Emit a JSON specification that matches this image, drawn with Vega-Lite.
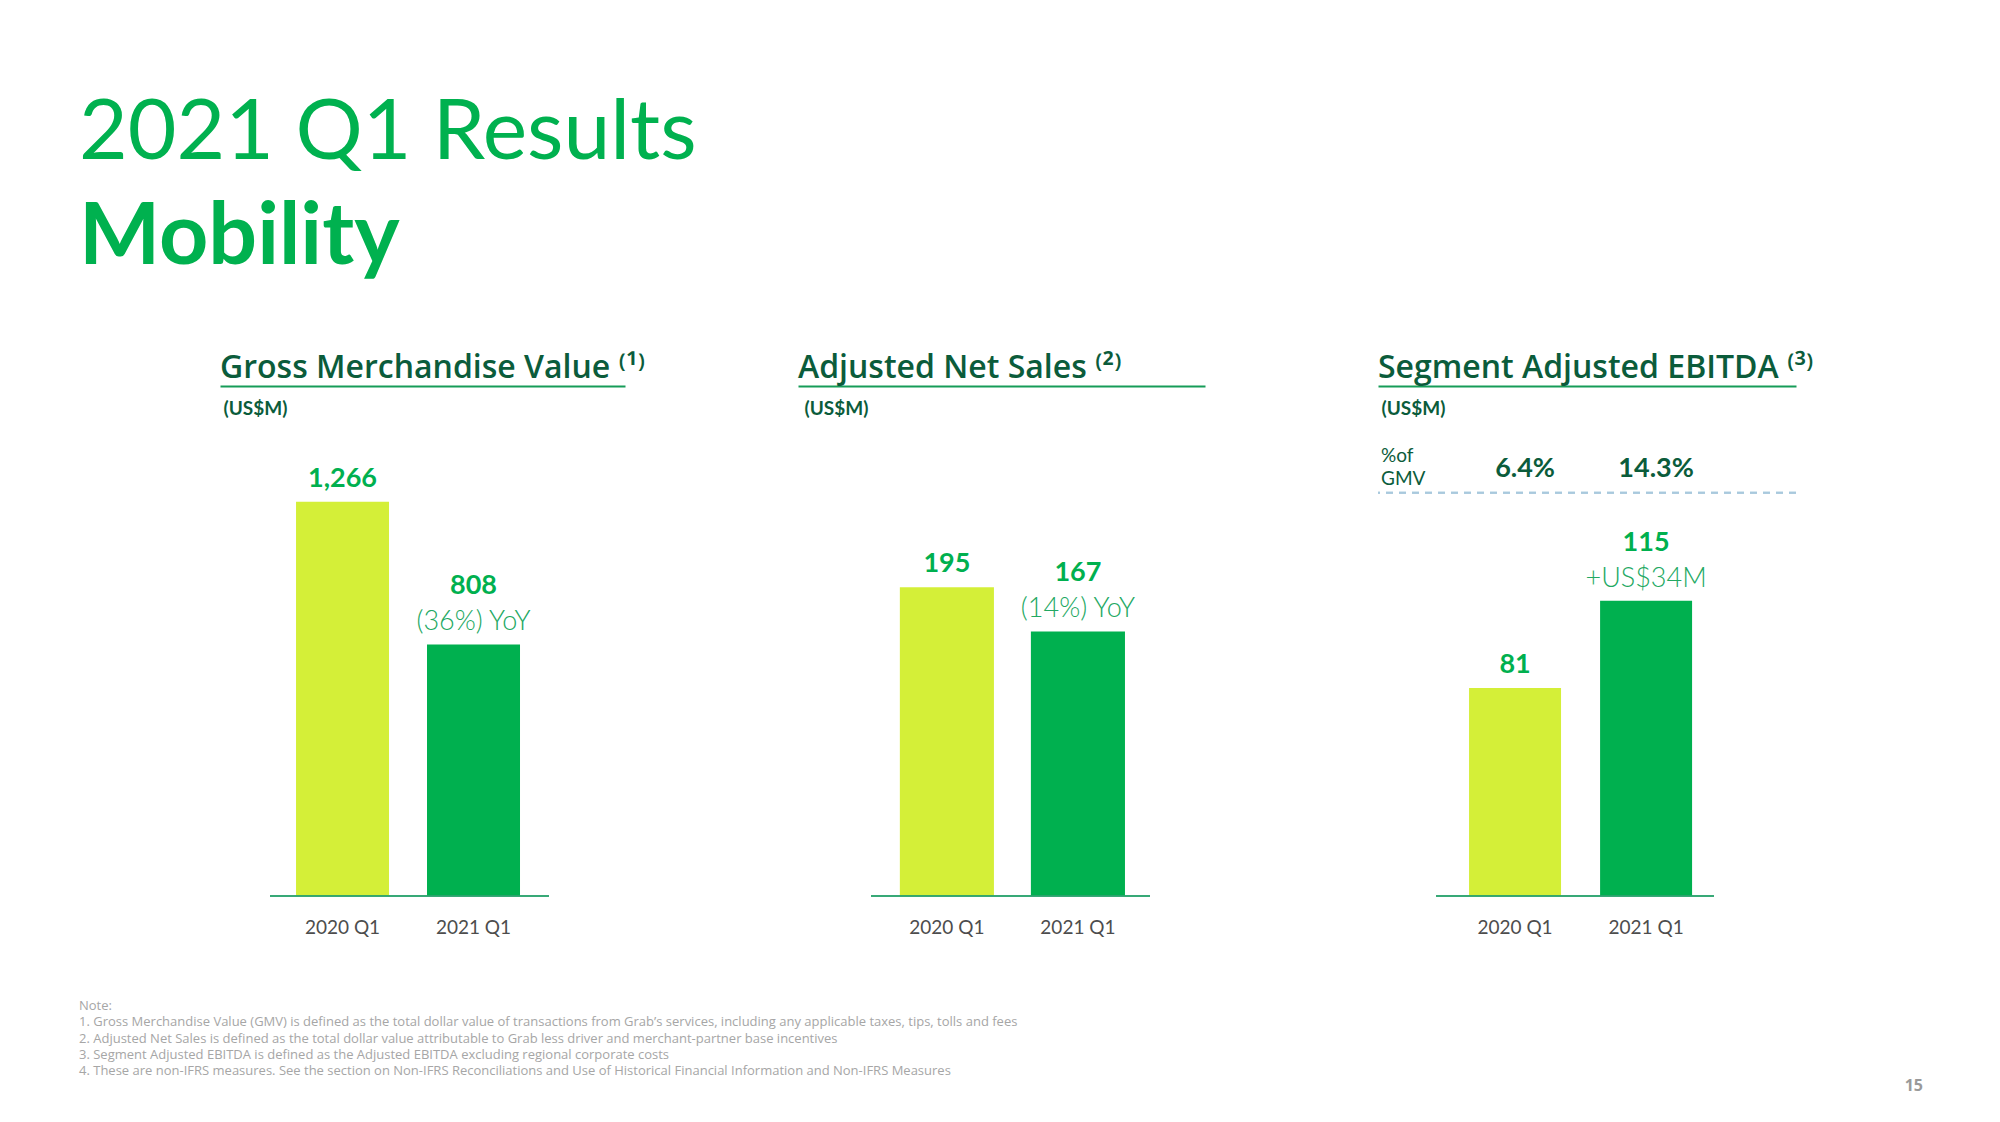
{
  "$schema": "https://vega.github.io/schema/vega-lite/v6.json",
  "background": "white",
  "padding": {"left": 79, "top": 92, "right": 10, "bottom": 10},
  "config": {
    "view": {"stroke": null},
    "axis": {"grid": false}
  },
  "title": {"text": "15", "orient": "bottom", "anchor": "end", "frame": "group", "offset": 0, "dx": 1703, "font": "Open Sans", "fontSize": 16, "fontWeight": "bold", "color": "#9a9a9a"},
  "vconcat": [
    {
      "title": {
        "text": [
          "Note:",
          "1. Gross Merchandise Value (GMV) is defined as the total dollar value of transactions from Grab’s services, including any applicable taxes, tips, tolls and fees",
          "2. Adjusted Net Sales is defined as the total dollar value attributable to Grab less driver and merchant-partner base incentives",
          "3. Segment Adjusted EBITDA is defined as the Adjusted EBITDA excluding regional corporate costs",
          "4. These are non-IFRS measures. See the section on Non-IFRS Reconciliations and Use of Historical Financial Information and Non-IFRS Measures"
        ],
        "orient": "bottom", "anchor": "start", "frame": "group", "dx": -141, "offset": 63,
        "font": "Open Sans", "fontSize": 13, "fontWeight": "normal", "color": "#a6a6a6", "lineHeight": 16.3
      },
      "vconcat": [
        {
          "title": {
            "text": "2021 Q1 Results", "subtitle": "Mobility",
            "anchor": "start", "frame": "group", "dx": -141, "offset": 70,
            "font": "Lato", "fontSize": 84, "fontWeight": "normal", "color": "#00b14f",
            "subtitleFont": "Lato", "subtitleFontSize": 86, "subtitleFontWeight": "bold", "subtitleColor": "#00b14f", "subtitlePadding": 19
          },
          "hconcat": [
            {
              "width": 405, "height": 510,
              "title": {"text": "Gross Merchandise Value ⁽¹⁾", "anchor": "start", "frame": "group", "offset": 1, "font": "Open Sans", "fontSize": 32, "fontWeight": 600, "color": "#0b5c3b"},
              "data": {"values": [
                {"quarter": "2020 Q1", "value": 1266},
                {"quarter": "2021 Q1", "value": 808, "change": "(36%) YoY"}
              ]},
              "layer": [
                {
                  "mark": {"type": "bar"},
                  "encoding": {
                    "x": {"field": "quarter", "type": "nominal", "scale": {"paddingInner": 0.29, "paddingOuter": 0.691, "align": 0.42},
                      "axis": {"orient": "bottom", "title": null, "domain": false, "ticks": false, "labelPadding": 22, "labelFontSize": 19, "labelColor": "#4d4d4d", "labelFont": "Lato", "labelAngle": 0}},
                    "y": {"field": "value", "type": "quantitative", "scale": {"domain": [0, 1638], "nice": false}, "axis": null},
                    "color": {"field": "quarter", "type": "nominal", "scale": {"domain": ["2020 Q1", "2021 Q1"], "range": ["#d4ef38", "#00b04f"]}, "legend": null}
                  }
                },
                {
                  "mark": {"type": "rule", "color": "#2ba36e", "strokeWidth": 1.5},
                  "encoding": {
                    "x": {"datum": "2020 Q1", "type": "nominal", "bandPosition": -0.28,
                      "axis": {"orient": "top", "title": "(US$M)", "domain": true, "domainColor": "#169c58", "domainWidth": 2, "ticks": false, "labels": false, "titleX": 3, "titleY": 22, "titleAlign": "left", "titleBaseline": "middle", "titleAngle": 0, "titleFont": "Lato", "titleFontSize": 19, "titleFontWeight": "bold", "titleColor": "#0b5c3b", "titlePadding": 0}},
                    "x2": {"datum": "2021 Q1", "bandPosition": 1.312},
                    "y": {"datum": 0, "type": "quantitative", "axis": null}
                  }
                },
                {
                  "transform": [{"filter": {"field": "quarter", "equal": "2020 Q1"}}],
                  "mark": {"type": "text", "baseline": "alphabetic", "dy": -15, "font": "Lato", "fontSize": 27, "fontWeight": "bold", "color": "#00b04f"},
                  "encoding": {
                    "x": {"field": "quarter", "type": "nominal", "axis": null},
                    "y": {"field": "value", "type": "quantitative", "axis": null},
                    "text": {"field": "value", "type": "quantitative", "format": ","}
                  }
                },
                {
                  "transform": [{"filter": {"field": "quarter", "equal": "2021 Q1"}}],
                  "mark": {"type": "text", "baseline": "alphabetic", "dy": -50, "font": "Lato", "fontSize": 27, "fontWeight": "bold", "color": "#00b04f"},
                  "encoding": {
                    "x": {"field": "quarter", "type": "nominal", "axis": null},
                    "y": {"field": "value", "type": "quantitative", "axis": null},
                    "text": {"field": "value", "type": "quantitative", "format": ","}
                  }
                },
                {
                  "transform": [{"filter": "isValid(datum.change)"}],
                  "mark": {"type": "text", "baseline": "alphabetic", "dy": -14, "font": "Lato", "fontSize": 27, "fontWeight": 300, "color": "#22a862"},
                  "encoding": {
                    "x": {"field": "quarter", "type": "nominal", "axis": null},
                    "y": {"field": "value", "type": "quantitative", "axis": null},
                    "text": {"field": "change", "type": "nominal"}
                  }
                }
              ],
              "resolve": {"axis": {"x": "independent"}}
            },
            {
              "width": 407, "height": 510,
              "title": {"text": "Adjusted Net Sales ⁽²⁾", "anchor": "start", "frame": "group", "offset": 1, "font": "Open Sans", "fontSize": 32, "fontWeight": 600, "color": "#0b5c3b"},
              "data": {"values": [
                {"quarter": "2020 Q1", "value": 195},
                {"quarter": "2021 Q1", "value": 167, "change": "(14%) YoY"}
              ]},
              "layer": [
                {
                  "mark": {"type": "bar"},
                  "encoding": {
                    "x": {"field": "quarter", "type": "nominal", "scale": {"paddingInner": 0.282, "paddingOuter": 0.694, "align": 0.56},
                      "axis": {"orient": "bottom", "title": null, "domain": false, "ticks": false, "labelPadding": 22, "labelFontSize": 19, "labelColor": "#4d4d4d", "labelFont": "Lato", "labelAngle": 0}},
                    "y": {"field": "value", "type": "quantitative", "scale": {"domain": [0, 322], "nice": false}, "axis": null},
                    "color": {"field": "quarter", "type": "nominal", "scale": {"domain": ["2020 Q1", "2021 Q1"], "range": ["#d4ef38", "#00b04f"]}, "legend": null}
                  }
                },
                {
                  "mark": {"type": "rule", "color": "#2ba36e", "strokeWidth": 1.5},
                  "encoding": {
                    "x": {"datum": "2020 Q1", "type": "nominal", "bandPosition": -0.307,
                      "axis": {"orient": "top", "title": "(US$M)", "domain": true, "domainColor": "#169c58", "domainWidth": 2, "ticks": false, "labels": false, "titleX": 6, "titleY": 22, "titleAlign": "left", "titleBaseline": "middle", "titleAngle": 0, "titleFont": "Lato", "titleFontSize": 19, "titleFontWeight": "bold", "titleColor": "#0b5c3b", "titlePadding": 0}},
                    "x2": {"datum": "2021 Q1", "bandPosition": 1.266},
                    "y": {"datum": 0, "type": "quantitative", "axis": null}
                  }
                },
                {
                  "transform": [{"filter": {"field": "quarter", "equal": "2020 Q1"}}],
                  "mark": {"type": "text", "baseline": "alphabetic", "dy": -15, "font": "Lato", "fontSize": 27, "fontWeight": "bold", "color": "#00b04f"},
                  "encoding": {
                    "x": {"field": "quarter", "type": "nominal", "axis": null},
                    "y": {"field": "value", "type": "quantitative", "axis": null},
                    "text": {"field": "value", "type": "quantitative", "format": ","}
                  }
                },
                {
                  "transform": [{"filter": {"field": "quarter", "equal": "2021 Q1"}}],
                  "mark": {"type": "text", "baseline": "alphabetic", "dy": -50, "font": "Lato", "fontSize": 27, "fontWeight": "bold", "color": "#00b04f"},
                  "encoding": {
                    "x": {"field": "quarter", "type": "nominal", "axis": null},
                    "y": {"field": "value", "type": "quantitative", "axis": null},
                    "text": {"field": "value", "type": "quantitative", "format": ","}
                  }
                },
                {
                  "transform": [{"filter": "isValid(datum.change)"}],
                  "mark": {"type": "text", "baseline": "alphabetic", "dy": -14, "font": "Lato", "fontSize": 27, "fontWeight": 300, "color": "#22a862"},
                  "encoding": {
                    "x": {"field": "quarter", "type": "nominal", "axis": null},
                    "y": {"field": "value", "type": "quantitative", "axis": null},
                    "text": {"field": "change", "type": "nominal"}
                  }
                }
              ],
              "resolve": {"axis": {"x": "independent"}}
            },
            {
              "width": 418, "height": 510,
              "title": {"text": "Segment Adjusted EBITDA ⁽³⁾", "anchor": "start", "frame": "group", "offset": 1, "font": "Open Sans", "fontSize": 32, "fontWeight": 600, "color": "#0b5c3b"},
              "data": {"values": [
                {"quarter": "2020 Q1", "value": 81, "pct_gmv": "6.4%"},
                {"quarter": "2021 Q1", "value": 115, "change": "+US$34M", "pct_gmv": "14.3%"}
              ]},
              "layer": [
                {
                  "mark": {"type": "bar"},
                  "encoding": {
                    "x": {"field": "quarter", "type": "nominal", "scale": {"paddingInner": 0.298, "paddingOuter": 0.744, "align": 0.467},
                      "axis": {"orient": "bottom", "title": null, "domain": false, "ticks": false, "labelPadding": 22, "labelFontSize": 19, "labelColor": "#4d4d4d", "labelFont": "Lato", "labelAngle": 0}},
                    "y": {"field": "value", "type": "quantitative", "scale": {"domain": [0, 198.6], "nice": false}, "axis": null},
                    "color": {"field": "quarter", "type": "nominal", "scale": {"domain": ["2020 Q1", "2021 Q1"], "range": ["#d4ef38", "#00b04f"]}, "legend": null}
                  }
                },
                {
                  "mark": {"type": "rule", "color": "#2ba36e", "strokeWidth": 1.5},
                  "encoding": {
                    "x": {"datum": "2020 Q1", "type": "nominal", "bandPosition": -0.359,
                      "axis": {"orient": "top", "title": "(US$M)", "domain": true, "domainColor": "#169c58", "domainWidth": 2, "ticks": false, "labels": false, "titleX": 3, "titleY": 22, "titleAlign": "left", "titleBaseline": "middle", "titleAngle": 0, "titleFont": "Lato", "titleFontSize": 19, "titleFontWeight": "bold", "titleColor": "#0b5c3b", "titlePadding": 0}},
                    "x2": {"datum": "2021 Q1", "bandPosition": 1.238},
                    "y": {"datum": 0, "type": "quantitative", "axis": null}
                  }
                },
                {
                  "mark": {"type": "rule", "color": "#a9c9dd", "strokeWidth": 2, "strokeDash": [7, 6]},
                  "encoding": {
                    "y": {"datum": 157, "type": "quantitative", "axis": null}
                  }
                },
                {
                  "data": {"values": [{"row_label": "%of\nGMV"}]},
                  "mark": {"type": "text", "align": "left", "baseline": "middle", "lineBreak": "\n", "lineHeight": 23, "dy": 70, "font": "Lato", "fontSize": 19, "color": "#0b5c3b"},
                  "encoding": {
                    "x": {"datum": "2020 Q1", "type": "nominal", "bandPosition": -0.957, "axis": null},
                    "y": {"datum": 198.6, "type": "quantitative", "axis": null},
                    "text": {"field": "row_label", "type": "nominal"}
                  }
                },
                {
                  "mark": {"type": "text", "baseline": "middle", "dy": 83, "dx": 10, "font": "Lato", "fontSize": 27, "fontWeight": "bold", "color": "#0b5c3b"},
                  "encoding": {
                    "x": {"field": "quarter", "type": "nominal", "axis": null},
                    "y": {"datum": 198.6, "type": "quantitative", "axis": null},
                    "text": {"field": "pct_gmv", "type": "nominal"}
                  }
                },
                {
                  "transform": [{"filter": {"field": "quarter", "equal": "2020 Q1"}}],
                  "mark": {"type": "text", "baseline": "alphabetic", "dy": -15, "font": "Lato", "fontSize": 27, "fontWeight": "bold", "color": "#00b04f"},
                  "encoding": {
                    "x": {"field": "quarter", "type": "nominal", "axis": null},
                    "y": {"field": "value", "type": "quantitative", "axis": null},
                    "text": {"field": "value", "type": "quantitative", "format": ","}
                  }
                },
                {
                  "transform": [{"filter": {"field": "quarter", "equal": "2021 Q1"}}],
                  "mark": {"type": "text", "baseline": "alphabetic", "dy": -50, "font": "Lato", "fontSize": 27, "fontWeight": "bold", "color": "#00b04f"},
                  "encoding": {
                    "x": {"field": "quarter", "type": "nominal", "axis": null},
                    "y": {"field": "value", "type": "quantitative", "axis": null},
                    "text": {"field": "value", "type": "quantitative", "format": ","}
                  }
                },
                {
                  "transform": [{"filter": "isValid(datum.change)"}],
                  "mark": {"type": "text", "baseline": "alphabetic", "dy": -14, "font": "Lato", "fontSize": 27, "fontWeight": 300, "color": "#22a862"},
                  "encoding": {
                    "x": {"field": "quarter", "type": "nominal", "axis": null},
                    "y": {"field": "value", "type": "quantitative", "axis": null},
                    "text": {"field": "change", "type": "nominal"}
                  }
                }
              ],
              "resolve": {"axis": {"x": "independent"}}
            }
          ],
          "spacing": 173,
          "bounds": "flush"
        }
      ]
    }
  ]
}
